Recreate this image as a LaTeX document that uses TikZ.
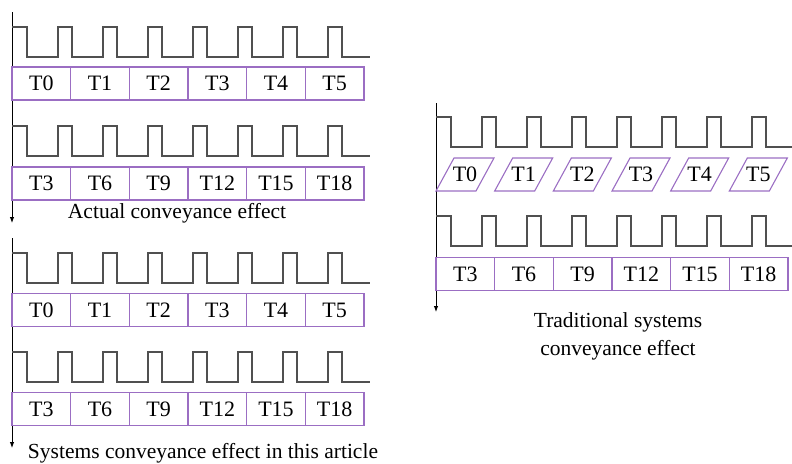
\documentclass[tikz,border=0pt]{standalone}
\usepackage{fontspec}
\setmainfont{Liberation Serif}
\usetikzlibrary{arrows.meta}
\definecolor{boxc}{RGB}{155,110,195}
\definecolor{wavec}{RGB}{80,80,80}
\newcommand\drawwave[3]{\draw[wavestyle] (#1,#2) -- ++(15,0) -- ++(0,30)
  \foreach \k in {1,...,7}{ -- ++(31,0) -- ++(0,-30) -- ++(14,0) -- ++(0,30)} -- ++(#3,0);}
\tikzset{
  wavestyle/.style={draw=wavec, line width=1.3pt},
  tbox/.style={draw=boxc, line width=1.2pt, minimum width=58.667pt, minimum height=33pt,
    inner sep=0pt, font=\fontsize{22}{24}\selectfont},
  tlabel/.style={inner sep=0pt, font=\fontsize{22}{24}\selectfont},
  para/.style={draw=boxc, line width=1.1pt},
  axisline/.style={draw=black, line width=0.9pt, -{Latex[length=6pt,width=4.5pt]}},
  caption/.style={inner sep=0pt, font=\fontsize{21.5}{28}\selectfont, align=center}
}
\begin{document}
\begin{tikzpicture}[x=1pt,y=-1pt]
\useasboundingbox (0,0) rectangle (792,463);
% axes
\coordinate (a1s) at (12,12);   \coordinate (a1e) at (12,223);
\coordinate (a2s) at (12,238);  \coordinate (a2e) at (12,448);
\coordinate (a3s) at (436,103); \coordinate (a3e) at (436,312);
\draw[axisline] (a1s) -- (a1e);
\draw[axisline] (a2s) -- (a2e);
\draw[axisline] (a3s) -- (a3e);
% waves
\drawwave{12}{27}{28}
\drawwave{12}{126}{28}
\drawwave{12}{253}{28}
\drawwave{12}{352}{28}
\drawwave{436}{117}{26}
\drawwave{436}{216}{26}
% box rows
\foreach \t [count=\n from 0] in {T0,T1,T2,T3,T4,T5}
  \node[tbox, name=ra\n] at (12+58.667*\n+29.333, 83.5) {\t};
\foreach \t [count=\n from 0] in {T3,T6,T9,T12,T15,T18}
  \node[tbox, name=rb\n] at (12+58.667*\n+29.333, 183.5) {\t};
\foreach \t [count=\n from 0] in {T0,T1,T2,T3,T4,T5}
  \node[tbox, name=rc\n] at (12+58.667*\n+29.333, 310) {\t};
\foreach \t [count=\n from 0] in {T3,T6,T9,T12,T15,T18}
  \node[tbox, name=rd\n] at (12+58.667*\n+29.333, 409) {\t};
\foreach \t [count=\n from 0] in {T3,T6,T9,T12,T15,T18}
  \node[tbox, name=rr\n] at (436+58.667*\n+29.333, 274) {\t};
% parallelograms
\foreach \t [count=\n from 0] in {T0,T1,T2,T3,T4,T5}{
  \draw[para] (436+58.667*\n,191) -- ++(40,0) -- ++(18,-33) -- ++(-40,0) -- cycle;
  \node[tlabel, name=pp\n] at (436+58.667*\n+29,174.5) {\t};
}
% captions
\node[caption, name=cap1] at (177,213) {Actual conveyance effect};
\node[caption, name=cap2] at (203,453) {Systems conveyance effect in this article};
\node[caption, name=cap3] at (618,336) {Traditional systems\\conveyance effect};
\end{tikzpicture}
\end{document}
